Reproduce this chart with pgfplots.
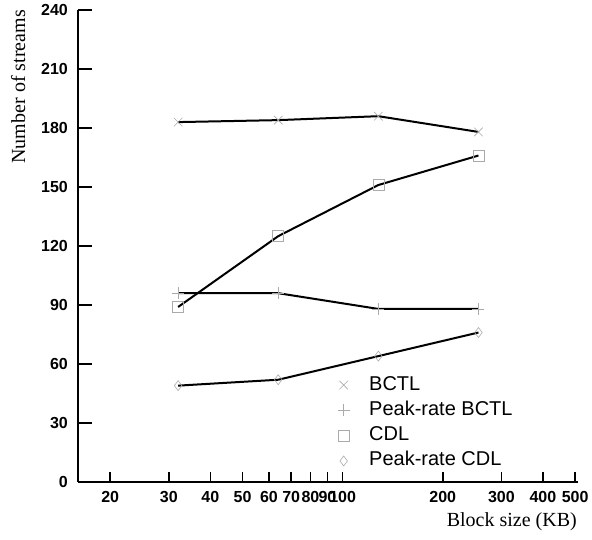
\documentclass[border=0pt]{standalone}
\usepackage{fontspec}
\setmainfont{Liberation Serif}
\setsansfont{Liberation Sans}
\usepackage{pgfplots}
\pgfplotsset{compat=1.18}
\definecolor{markgray}{RGB}{170,170,170}
\begin{document}
\begin{tikzpicture}
\useasboundingbox (0,0) rectangle (592pt,540pt);
\begin{axis}[
  at={(78pt,58pt)}, anchor=south west,
  scale only axis, width=500pt, height=472pt,
  xmode=log, xmin=16, xmax=510, ymin=0, ymax=240,
  axis x line*=bottom, axis y line*=left,
  axis line style={line width=2pt},
  tick align=inside,
  major tick length=14pt,
  tick style={line width=1.5pt, black},
  xtick={20,30,40,50,60,70,80,90,200,300,400,500},
  xticklabels={20,30,40,50,60,70,80,90,200,300,400,500},
  xtick style={/pgfplots/major tick length=10pt},
  extra x ticks={100}, extra x tick labels={100},
  extra x tick style={/pgfplots/major tick length=14pt},
  minor xtick={},
  ytick={0,30,...,240},
  /pgf/number format/assume math mode=true,
  ticklabel style={font=\fontsize{16}{16}\selectfont\sffamily\bfseries},
  yticklabel style={inner sep=0pt, xshift=-10pt},
  xticklabel style={inner sep=0pt, yshift=-9pt},
  xlabel={Block size (KB)},
  xlabel style={at={(rel axis cs:1,0)}, anchor=north east, inner sep=0pt, xshift=-1pt, yshift=-30pt, font=\fontsize{20}{20}\selectfont},
  legend cell align=left,
  legend style={draw=none, fill=none, at={(rel axis cs:0.519,0.227)}, anchor=north west,
    inner sep=0pt, font=\fontsize{20}{20}\selectfont\sffamily,
    nodes={text height=15pt, text depth=5pt, inner sep=0pt},
    row sep=5.3pt,
    /tikz/every odd column/.append style={column sep=19.5pt}},
]
\addplot[black, line width=2pt, forget plot] coordinates {(32,183)(64,184)(128,186)(256,178)};
\addplot[black, line width=2pt, forget plot] coordinates {(32,96)(64,96)(128,88)(256,88)};
\addplot[black, line width=2pt, forget plot] coordinates {(32,89)(64,125)(128,151)(256,166)};
\addplot[black, line width=2pt, forget plot] coordinates {(32,49)(64,52)(128,64)(256,76)};
\addplot[only marks, mark=x, mark size=6pt, markgray, mark options={line width=0.6pt}] coordinates {(32,183)(64,184)(128,186)(256,178)};
\addplot[only marks, mark=+, mark size=6pt, markgray, mark options={line width=0.6pt}] coordinates {(32,96)(64,96)(128,88)(256,88)};
\addplot[only marks, mark=square, mark size=5.5pt, markgray, mark options={line width=0.6pt}] coordinates {(32,89)(64,125)(128,151)(256,166)};
\addplot[only marks, mark=diamond, mark size=5pt, markgray, mark options={line width=0.6pt}] coordinates {(32,49)(64,52)(128,64)(256,76)};
\legend{BCTL, Peak-rate BCTL, CDL, Peak-rate CDL}
\end{axis}
\node[rotate=90, anchor=base east, inner sep=0pt, font=\fontsize{20}{20}\selectfont] at (25pt,530pt) {Number of streams};
\end{tikzpicture}
\end{document}
